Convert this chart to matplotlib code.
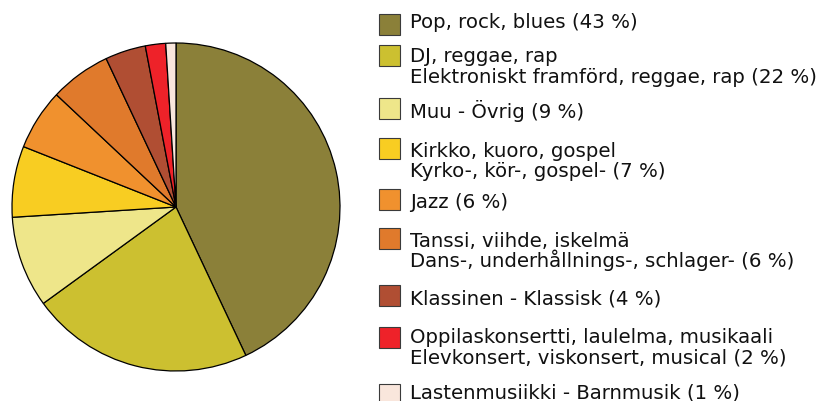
import matplotlib
matplotlib.use("Agg")
import matplotlib.pyplot as plt
from matplotlib.patches import Rectangle

categories = [
    ["Pop, rock, blues (43 %)"],
    ["DJ, reggae, rap", "Elektroniskt framförd, reggae, rap (22 %)"],
    ["Muu - Övrig (9 %)"],
    ["Kirkko, kuoro, gospel", "Kyrko-, kör-, gospel- (7 %)"],
    ["Jazz (6 %)"],
    ["Tanssi, viihde, iskelmä", "Dans-, underhållnings-, schlager- (6 %)"],
    ["Klassinen - Klassisk (4 %)"],
    ["Oppilaskonsertti, laulelma, musikaali", "Elevkonsert, viskonsert, musical (2 %)"],
    ["Lastenmusiikki - Barnmusik (1 %)"],
]
values = [43, 22, 9, 7, 6, 6, 4, 2, 1]
colors = ["#8B8039", "#CCC030", "#EEE68A", "#F8CD22", "#F0912E",
          "#E07A2C", "#B04E33", "#EE2229", "#F9E6DC"]

W, H = 835, 402
fig = plt.figure(figsize=(W / 100, H / 100), dpi=100)

# pie axes (pixel layout)
cx, cy, r = 176, 208, 164
ax = fig.add_axes([(cx - r) / W, (H - cy - r) / H, 2 * r / W, 2 * r / H])
ax.pie(values, colors=colors, startangle=90, counterclock=False,
       wedgeprops=dict(edgecolor="black", linewidth=0.9))
ax.set_xlim(-1, 1)
ax.set_ylim(-1, 1)
ax.set_aspect("equal")
for p in ax.patches:
    p.set_clip_on(False)

# legend layout (pixels from top)
sq_top = [15, 46, 99, 139, 190, 229, 286, 328, 385]
base_y = [27.7, 62.3, 118.3, 156.7, 208.3, 246.7, 305, 343.3, 399]
sq_x, sq = 379, 20.5
tx = 410
line_h = 20.5
for lines, col, st, by in zip(categories, colors, sq_top, base_y):
    fig.patches.append(Rectangle((sq_x / W, (H - st - sq) / H), sq / W, sq / H,
                                 transform=fig.transFigure, facecolor=col,
                                 edgecolor="#3a3a3a", linewidth=0.8))
    for k, t in enumerate(lines):
        fig.text(tx / W, (H - (by + k * line_h)) / H, t, fontsize=14.2,
                 family="DejaVu Sans", va="baseline", ha="left", color="#111111")

fig.savefig("out.png", dpi=100)
